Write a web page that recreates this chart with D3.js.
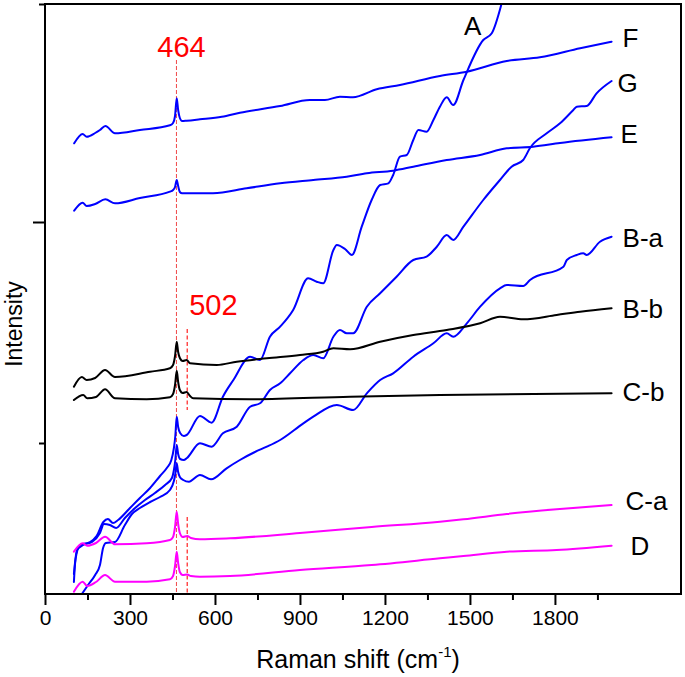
<!DOCTYPE html>
<html><head><meta charset="utf-8">
<script src="https://cdn.jsdelivr.net/npm/d3@7"></script>
<style>body{margin:0;background:#fff}svg{display:block}text{font-family:"Liberation Sans",Arial,Helvetica,sans-serif}</style>
</head><body><svg id="chart" width="685" height="677"></svg>
<script>
// ---- data: [Raman shift (cm-1), intensity (a.u.)] ----
const seriesF = [[103,450.7],[133,460],[147,457.3],[177,461],[194,464],[213,468],[247,460.7],[335,464],[441,468.7],[452,471],[459,478],[465,495.7],[470,484],[476,476],[484,473],[500,473.3],[547,474.7],[624,477.3],[688,481.3],[830,488],[935,494],[988,494],[1041,497.3],[1087,496.7],[1171,504.7],[1253,509],[1394,518],[1489,522.3],[1630,533],[1747,536.7],[1889,545.7],[2000,552.3]];
const seriesE = [[103,383.3],[133,391.3],[147,388],[177,390],[213,394.7],[247,390.7],[335,396],[441,402.3],[452,404],[459,407],[465,414],[470,408],[476,402],[484,400.7],[500,400.7],[593,400.7],[712,405.7],[830,410.7],[947,414],[1065,417.3],[1136,420.7],[1229,423.3],[1300,427.3],[1418,434],[1536,439],[1630,445.7],[1723,447.3],[1818,451],[2000,456.7]];
const seriesA = [[102,12],[106,30],[112,41],[124,49],[159,52],[182,58],[206,72],[222,75],[240,71],[258,74],[300,86],[335,96],[371,106],[406,118],[430,126],[446,134],[455,146],[460,158],[465,177.3],[470,167],[477,161],[490,158],[500,159],[547,178],[588,171.3],[628,197.3],[665,214],[724,237.3],[759,234],[794,257.3],[830,267.3],[876,284],[929,315.7],[959,312.3],[982,310.7],[1018,344],[1030,349],[1059,345],[1083,339],[1118,367.3],[1153,394],[1183,409],[1212,410.7],[1229,419],[1253,437.3],[1277,439],[1300,454],[1318,464],[1347,462.3],[1371,474],[1394,487.3],[1418,496.7],[1441,489],[1477,514],[1547,554],[1577,560.7],[1612,590.7],[1640,625]];
const seriesG = [[102,20],[113,44],[135,49],[166,52],[194,61],[208,70],[229,69],[251,66],[282,76],[318,86],[353,94],[388,101],[424,109],[448,116],[455,124],[460,134],[465,149],[470,140],[477,135],[490,134],[500,135.7],[547,150.7],[588,147.3],[628,160.7],[677,167.3],[724,187.3],[759,190.7],[794,204],[830,210.7],[865,220.7],[912,234],[947,239],[982,235.7],[1018,257.3],[1041,264],[1065,260.7],[1088,260.7],[1136,287.3],[1183,300.7],[1241,317.3],[1300,334],[1347,337.3],[1383,347.3],[1418,359],[1441,354],[1477,367.3],[1547,394],[1606,414],[1647,427.3],[1688,434],[1712,446],[1771,460.7],[1818,470.7],[1865,484],[1877,487.3],[1912,488],[1947,500.7],[2000,513]];
const seriesBa = [[130,0],[152,9],[177,19],[194,29],[205,46],[215,51],[247,52],[282,69],[307,80],[335,86],[371,92],[406,97],[441,104],[455,113],[460,120],[465,130.7],[470,122],[476,117],[488,114],[508,112.3],[547,119],[586,114.7],[641,125.7],[688,134],[741,142],[783,147.3],[830,154],[912,170.7],[947,177.3],[1030,189],[1088,184],[1136,200.7],[1183,214],[1229,220.7],[1300,237.3],[1371,250.7],[1418,260.7],[1441,257.3],[1489,270.7],[1536,287.3],[1606,305.7],[1630,309],[1688,308],[1712,314],[1830,327.3],[1842,334],[1877,339],[1900,340.7],[1912,339],[1959,352.3],[2000,357.3]];
const seriesBb = [[102,207.3],[130,217],[147,214],[177,216],[212,224],[247,217],[371,222.3],[441,225.7],[452,229],[459,238],[465,252.3],[470,242],[476,236],[486,233],[500,234],[512,230.7],[606,229],[677,232.3],[783,235.7],[900,239],[982,242.3],[1018,245.7],[1077,244.7],[1183,252.3],[1300,259],[1418,264],[1536,270.7],[1606,277.3],[1688,274.7],[1806,279],[1889,282.3],[2000,285.7]];
const seriesCb = [[102,194],[135,199],[149,195.7],[180,197],[212,204.7],[247,195.7],[359,194.7],[441,196.7],[452,200],[459,209],[465,223.3],[470,212],[476,204],[486,201],[500,202],[512,198],[523,195.7],[724,194.7],[1077,197.3],[1394,199],[2000,200.7]];
const seriesCa = [[102,42.3],[133,50.7],[149,48.3],[180,51],[212,57.3],[247,49.7],[359,50.7],[441,54],[452,57],[459,67],[465,82.3],[470,70],[476,61],[486,57],[502,58],[515,56],[547,54.7],[653,55.7],[900,61],[1153,67],[1394,72.3],[1477,74.7],[1630,80],[1806,84.7],[2000,89]];
const seriesD = [[102,2.3],[133,12.3],[149,8],[180,12],[212,19],[247,12.3],[359,12.3],[441,14.7],[452,18],[459,28],[465,42.3],[470,31],[476,22],[486,19],[502,19.5],[515,18],[547,17.3],[653,18],[900,24],[1153,29],[1394,35.7],[1477,38],[1630,42.3],[1806,44],[2000,48.3]];

const seriesNames = ["F","E","A","G","B-a","B-b","C-b","C-a","D"];
const xMajorTicks = [0,300,600,900,1200,1500,1800];
const xMinorTicks = [150,450,750,1050,1350,1650,1950];
const yMajorTicks = [372];
const yMinorTicks = [151,590];
const peakMarks = [464, 502];

// ---- layout ----
const svg = d3.select("#chart");
const L = 45, R = 681, T = 4, B = 594;
const x = d3.scaleLinear().domain([0,2245]).range([L,R]);
const y = d3.scaleLinear().domain([0,590]).range([B,T]);

const blue = "#0000ff", black = "#000000", magenta = "#ff00ff";
const series = [
  {name:"F", data:seriesF, color:blue, dx:11, dy:-4},
  {name:"E", data:seriesE, color:blue, dx:9, dy:-3},
  {name:"A", data:seriesA, color:blue},
  {name:"G", data:seriesG, color:blue, dx:6, dy:2},
  {name:"B-a", data:seriesBa, color:blue, dx:11, dy:1},
  {name:"B-b", data:seriesBb, color:black, dx:11, dy:1},
  {name:"C-b", data:seriesCb, color:black, dx:11, dy:-1},
  {name:"C-a", data:seriesCa, color:magenta, dx:14, dy:-4},
  {name:"D", data:seriesD, color:magenta, dx:19, dy:0}
];

svg.append("defs").append("clipPath").attr("id","clip")
  .append("rect").attr("x",L).attr("y",T).attr("width",R-L).attr("height",B-T);

// dashed peak markers
const g0 = svg.append("g");
g0.append("line").attr("x1",x(peakMarks[0])).attr("x2",x(peakMarks[0]))
  .attr("y1",y(534)).attr("y2",y(0))
  .attr("stroke","#f04848").attr("stroke-width",1).attr("stroke-dasharray","4,2");
[[184,265],[0,77]].forEach(s=>{
  g0.append("line").attr("x1",x(peakMarks[1])).attr("x2",x(peakMarks[1]))
    .attr("y1",y(s[1])).attr("y2",y(s[0]))
    .attr("stroke","#ff2020").attr("stroke-width",1.2).attr("stroke-dasharray","4,2.5");
});

const line = d3.line().x(d=>x(d[0])).y(d=>y(d[1])).curve(d3.curveMonotoneX);
const gl = svg.append("g").attr("clip-path","url(#clip)");
series.forEach(s=>{
  gl.append("path").datum(s.data).attr("d",line)
    .attr("fill","none").attr("stroke",s.color).attr("stroke-width",2)
    .attr("stroke-linejoin","round").attr("stroke-linecap","round");
});

// series labels
series.forEach(s=>{
  if (s.name==="A") return;
  const last = s.data[s.data.length-1];
  svg.append("text").attr("x",x(last[0])+s.dx).attr("y",y(last[1])+s.dy)
    .attr("dominant-baseline","central").attr("font-size",26).attr("fill","#000")
    .text(s.name);
});
svg.append("text").attr("x",x(1510)).attr("y",y(559)).attr("text-anchor","middle")
  .attr("font-size",26).attr("fill","#000").text("A");

// peak labels
svg.append("text").attr("x",x(464)+5).attr("y",y(537)).attr("text-anchor","middle")
  .attr("font-size",29).attr("fill","#ff0000").text("464");
svg.append("text").attr("x",x(502)+2).attr("y",y(279)).attr("text-anchor","start")
  .attr("font-size",29).attr("fill","#ff0000").text("502");

// frame
svg.append("rect").attr("x",L).attr("y",T).attr("width",R-L).attr("height",B-T)
  .attr("fill","none").attr("stroke","#000").attr("stroke-width",2);

// x axis
const xa = svg.append("g").attr("transform",`translate(0,${B})`)
  .call(d3.axisBottom(x).tickValues(xMajorTicks).tickSize(11).tickPadding(5).tickFormat(d3.format("d")));
xa.select(".domain").remove();
xa.selectAll("line").attr("stroke-width",2);
xa.selectAll("text").attr("font-size",21).attr("font-family",'"Liberation Sans",Arial,sans-serif').attr("fill","#000");
const xm = svg.append("g").attr("transform",`translate(0,${B})`)
  .call(d3.axisBottom(x).tickValues(xMinorTicks).tickSize(6).tickFormat(""));
xm.select(".domain").remove();
xm.selectAll("line").attr("stroke-width",2);

// y axis
const ya = svg.append("g").attr("transform",`translate(${L},0)`)
  .call(d3.axisLeft(y).tickValues(yMajorTicks).tickSize(12).tickFormat(""));
ya.select(".domain").remove();
ya.selectAll("line").attr("stroke-width",2);
const ym = svg.append("g").attr("transform",`translate(${L},0)`)
  .call(d3.axisLeft(y).tickValues(yMinorTicks).tickSize(6).tickFormat(""));
ym.select(".domain").remove();
ym.selectAll("line").attr("stroke-width",2);

// axis titles
const xt = svg.append("text").attr("x",358).attr("y",668).attr("text-anchor","middle")
  .attr("font-size",25).attr("fill","#000");
xt.append("tspan").text("Raman shift (cm");
xt.append("tspan").attr("font-size",15).attr("dy",-11).text("-1");
xt.append("tspan").attr("dy",11).text(")");
svg.append("text").attr("transform","translate(22,324) rotate(-90)")
  .attr("text-anchor","middle").attr("font-size",23).attr("fill","#000").text("Intensity");
</script></body></html>
